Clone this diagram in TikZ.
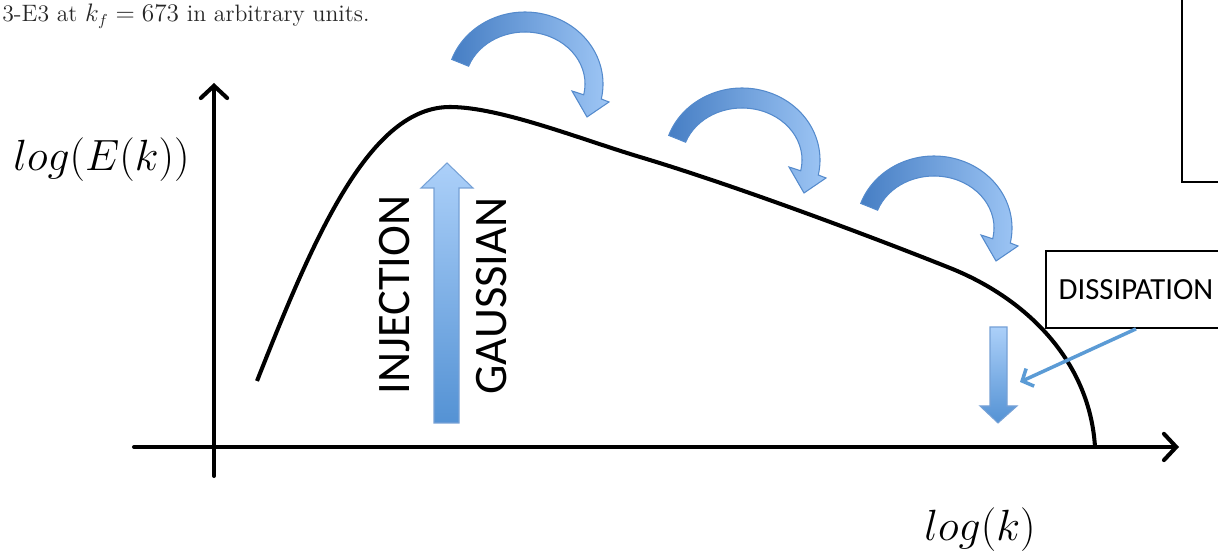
\documentclass[tikz,border=0pt]{standalone}
\usepackage{fontspec}
\newfontfamily\carl{Carlito}
\usetikzlibrary{arrows.meta,calc}
\definecolor{bdark}{RGB}{70,126,196}
\definecolor{blight}{RGB}{158,198,245}
\definecolor{bedge}{RGB}{84,138,204}
\definecolor{bline}{RGB}{91,155,213}
\definecolor{btop}{RGB}{172,208,249}
\definecolor{bbot}{RGB}{84,146,212}
\begin{document}
\begin{tikzpicture}[x=0.02cm,y=0.02cm,
  axisline/.style={line width=2.3pt,line cap=round,-{Straight Barb[length=7pt,width=15pt,line cap=round]}},
  curveline/.style={line width=2.3pt},
  bendarr/.style={draw=bedge,line width=0.6pt,left color=bdark,right color=blight},
  blockarr/.style={draw=bedge!80,line width=0.6pt,top color=btop,bottom color=bbot},
  sidelabel/.style={font=\carl\fontsize{26.5}{30}\selectfont,rotate=90,inner sep=0pt},
  boxlabel/.style={draw,line width=1pt,font=\carl\fontsize{17.5}{20}\selectfont,minimum width=3.6cm,minimum height=1.54cm,inner sep=0pt},
  pointer/.style={draw=bline,line width=2pt,-{Straight Barb[length=5pt,width=11pt]}}
]
\useasboundingbox (0,0) rectangle (1218,554);

% caption and box at top
\node[anchor=base west,inner sep=0pt,text=black!85,font=\fontsize{13.5}{16}\selectfont] (cap) at (2,532) {3-E3 at $k_f = 673$ in arbitrary units.};
\draw[line width=1pt] (1182,600) -- (1182,372) -- (1240,372);

% axes
\coordinate (yb) at (214,78);
\coordinate (yt) at (214,471);
\coordinate (xl) at (134,107);
\coordinate (xr) at (1179,107);
\draw[axisline] (yb) -- (yt);
\draw[axisline] (xl) -- (xr);

\node[font=\fontsize{24.5}{28}\selectfont,inner sep=0pt] (ylab) at (101.5,394) {$log(E(k))$};
\node[font=\fontsize{26}{30}\selectfont,inner sep=0pt] (xlab) at (980,24.5) {$log(k)$};

% spectrum curve
\draw[curveline] (257,173) .. controls (315,320) and (370,447) .. (450,447)
  .. controls (500,447) and (580,415) .. (640,397)
  .. controls (740,367) and (880,314) .. (950,286)
  .. controls (1030,254) and (1090,190) .. (1095,107);

% cascade arrows
\foreach \dx/\dy in {0/0, 217/-76, 409/-144}{
 \begin{scope}[shift={(\dx,\dy)}]
  \path[bendarr] (451.7,494.6) arc[start angle=160,end angle=-12,x radius=78,y radius=72]
    -- (609,452) -- (587,437) -- (572,463) -- (583.7,459.2)
    arc[start angle=-12,end angle=160,x radius=60,y radius=52] -- cycle;
 \end{scope}
}

% injection arrow
\path[blockarr] (434,131) -- (459,131) -- (459,366) -- (473,366) -- (447,391)
  -- (421,366) -- (434,366) -- cycle;
\node[sidelabel] (inj) at (395,259) {INJECTION};
\node[sidelabel] (gau) at (492,258) {GAUSSIAN};

% dissipation
\path[blockarr] (990,227) -- (1007,227) -- (1007,148) -- (1017,148) -- (998,131)
  -- (980,148) -- (990,148) -- cycle;
\node[boxlabel] (diss) at (1136,264.5) {DISSIPATION};
\coordinate (dtip) at (1020,172);
\draw[pointer] (diss.south) -- (dtip);
\end{tikzpicture}
\end{document}
